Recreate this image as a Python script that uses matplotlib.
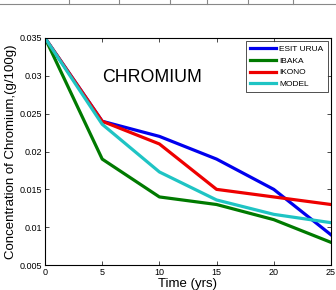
import numpy as np
import matplotlib.pyplot as plt
from matplotlib.lines import Line2D

plt.rcParams['font.family'] = ['Liberation Sans', 'DejaVu Sans']

# data
years = [0, 5, 10, 15, 20, 25]
esit_urua = [0.035, 0.024, 0.022, 0.019, 0.015, 0.009]
ibaka = [0.035, 0.019, 0.014, 0.013, 0.011, 0.008]
ikono = [0.035, 0.024, 0.021, 0.015, 0.014, 0.013]
model = [0.035, 0.0236, 0.0173, 0.0136, 0.0117, 0.0106]

fig = plt.figure(figsize=(3.36, 2.90), dpi=100)
ax = fig.add_axes([0.134, 0.086, 0.851, 0.783])

ax.plot(years, esit_urua, color='#0000ee', lw=2.3, label='ESIT URUA')
ax.plot(years, ibaka, color='#007a00', lw=2.3, label='IBAKA')
ax.plot(years, ikono, color='#ee0000', lw=2.3, label='IKONO')
ax.plot(years, model, color='#1fc4c4', lw=2.3, label='MODEL')

ax.set_xlim(0, 25)
ax.set_ylim(0.005, 0.035)
ax.set_xticks([0, 5, 10, 15, 20, 25])
ax.set_yticks([0.005, 0.01, 0.015, 0.02, 0.025, 0.03, 0.035])
ax.set_yticklabels(['0.005', '0.01', '0.015', '0.02', '0.025', '0.03', '0.035'])
ax.tick_params(direction='in', labelsize=6.5, length=3, width=0.5,
               top=True, right=True, pad=2)
for s in ax.spines.values():
    s.set_linewidth(0.8)

ax.set_xlabel('Time (yrs)', fontsize=9.5, labelpad=1)
ax.set_ylabel('Concentration of Chromium,(g/100g)', fontsize=9.5, labelpad=2)
ax.text(5.0, 0.0292, 'CHROMIUM', fontsize=12.8)

leg = ax.legend(loc='upper right', fontsize=6, frameon=True, fancybox=False,
                handlelength=3.1, borderaxespad=0.4, labelspacing=0.45,
                handletextpad=0.4, borderpad=0.5)
leg.get_frame().set_edgecolor('black')
leg.get_frame().set_linewidth(0.6)

# remnant of a table border above the figure
fig.add_artist(Line2D([0, 1], [0.986, 0.986], color='#888888', lw=0.8))
for xp in [69, 119, 170, 207, 248, 293]:
    fig.add_artist(Line2D([xp / 336, xp / 336], [0.986, 1.0], color='#888888', lw=0.8))

fig.savefig('out.png', dpi=100)
